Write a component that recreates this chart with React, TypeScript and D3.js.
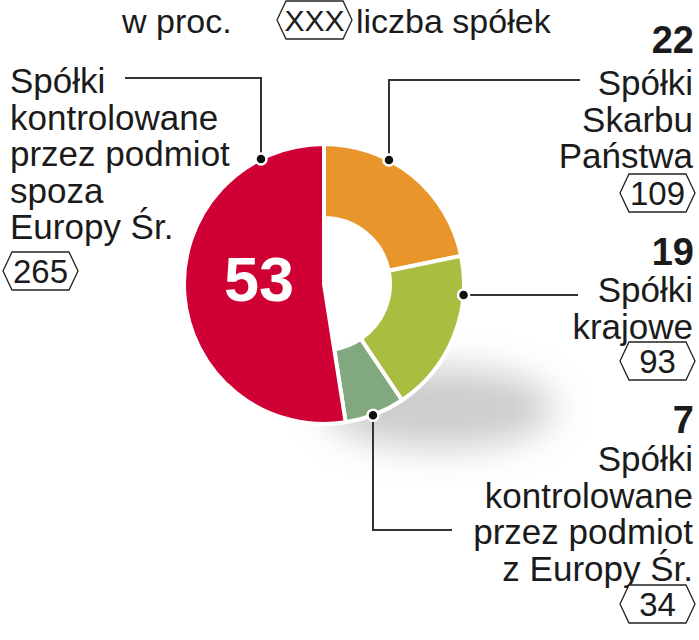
import React from "react";
import * as d3 from "d3";

// ---- data ----
const categories = [
  "Spółki Skarbu Państwa",
  "Spółki krajowe",
  "Spółki kontrolowane przez podmiot z Europy Śr.",
  "Spółki kontrolowane przez podmiot spoza Europy Śr.",
];
const percents = [22, 19, 7, 53];
const counts = [109, 93, 34, 265];
const labelLines = [
  ["Spółki", "Skarbu", "Państwa"],
  ["Spółki", "krajowe"],
  ["Spółki", "kontrolowane", "przez podmiot", "z Europy Śr."],
  ["Spółki", "kontrolowane", "przez podmiot", "spoza", "Europy Śr."],
];
const colors = ["#E8962B", "#AABD40", "#82A87F", "#CE0034"];
const legendPct = "w proc.";
const legendCount = "liczba spółek";
const legendHex = "XXX";

// ---- layout ----
const W = 699;
const H = 640;
const cx = 324;
const cy = 284;
const R = 140;
const Rin = 66;
const FONT = "'Liberation Sans', Arial, sans-serif";
const TXT = "#1b1b1b";

function hexPath(x0: number, y0: number, w: number, h: number) {
  const k = 9;
  const ym = y0 + h / 2;
  return `M${x0},${ym}L${x0 + k},${y0}L${x0 + w - k},${y0}L${x0 + w},${ym}L${x0 + w - k},${y0 + h}L${x0 + k},${y0 + h}Z`;
}

function Hex({ x, y, label }: { x: number; y: number; label: string }) {
  const w = 75;
  const h = 38;
  return (
    <g>
      <path d={hexPath(x, y, w, h)} fill="#fff" stroke="#222" strokeWidth={1.3} />
      <text x={x + w / 2} y={y + h - 7} textAnchor="middle" fontSize={33} fontFamily={FONT} fill={TXT}>
        {label}
      </text>
    </g>
  );
}

export default function App() {
  const pie = d3
    .pie<number>()
    .value((d) => d)
    .sort(null)
    .startAngle(0)
    .endAngle(2 * Math.PI);
  const arcs = pie(percents);

  const arcRing = d3.arc<d3.PieArcDatum<number>>().innerRadius(Rin).outerRadius(R);
  const arcFull = d3.arc<d3.PieArcDatum<number>>().innerRadius(0).outerRadius(R);

  // leader geometry (layout)
  const leaderX = [389, null, 373, 261];
  const leaderY = [null, 295, null, null];
  const dots = leaderX.map((lx, i) => {
    if (lx !== null) {
      const dx = lx - cx;
      const dy = Math.sqrt(R * R - dx * dx);
      return { x: lx, y: i === 2 ? cy + dy : cy - dy };
    }
    const dy = (leaderY[i] as number) - cy;
    return { x: cx + Math.sqrt(R * R - dy * dy), y: leaderY[i] as number };
  });

  const lineH = 36.5;
  const rightX = 693;

  // right label blocks
  const blocks = [
    { idx: 0, pctY: 53, firstY: 95, hexY: 174 },
    { idx: 1, pctY: 265, firstY: 302, hexY: 342 },
    { idx: 2, pctY: 433, firstY: 471, hexY: 585 },
  ];

  return (
    <svg width={W} height={H} style={{ position: "absolute", left: 0, top: 0, background: "#fff" }}>
      <defs>
        <filter id="shadow" x="-60%" y="-100%" width="220%" height="300%">
          <feGaussianBlur stdDeviation="18" />
        </filter>
      </defs>
      <rect width={W} height={H} fill="#fff" />

      {/* legend */}
      <text x={122} y={33} fontSize={34} fontFamily={FONT} fill={TXT}>
        {legendPct}
      </text>
      <g>
        <path d={hexPath(277, 1, 75, 38)} fill="#fff" stroke="#222" strokeWidth={1.3} />
        <text x={314.5} y={31} textAnchor="middle" fontSize={30} fontFamily={FONT} fill={TXT}>
          {legendHex}
        </text>
      </g>
      <text x={356} y={33} fontSize={34} fontFamily={FONT} fill={TXT}>
        {legendCount}
      </text>

      {/* shadow */}
      <ellipse cx={440} cy={408} rx={115} ry={40} fill="#9a9a9a" opacity={0.5} filter="url(#shadow)" />

      {/* donut */}
      <g transform={`translate(${cx},${cy})`}>
        {arcs.map((a, i) => (
          <path
            key={categories[i]}
            d={(i === 3 ? arcFull(a) : arcRing(a)) as string}
            fill={colors[i]}
            stroke="#fff"
            strokeWidth={4}
            strokeLinejoin="round"
          />
        ))}
      </g>
      <text
        x={259}
        y={301}
        textAnchor="middle"
        fontSize={63}
        fontWeight={700}
        fontFamily={FONT}
        fill="#fff"
      >
        {percents[3]}
      </text>

      {/* leaders */}
      <g stroke="#333" strokeWidth={2} fill="none">
        <polyline points={`125,78 ${dots[3].x},78 ${dots[3].x},${dots[3].y}`} />
        <polyline points={`580,80 ${dots[0].x},80 ${dots[0].x},${dots[0].y}`} />
        <polyline points={`578,${dots[1].y} ${dots[1].x},${dots[1].y}`} />
        <polyline points={`${dots[2].x},${dots[2].y} ${dots[2].x},530 452,530`} />
      </g>
      {dots.map((d, i) => (
        <circle key={i} cx={d.x} cy={d.y} r={5.5} fill="#111" stroke="#fff" strokeWidth={2.5} />
      ))}

      {/* left block */}
      {labelLines[3].map((l, j) => (
        <text key={j} x={10} y={93 + j * lineH} fontSize={35} fontFamily={FONT} fill={TXT}>
          {l}
        </text>
      ))}
      <Hex x={3} y={252} label={String(counts[3])} />

      {/* right blocks */}
      {blocks.map((b) => (
        <g key={b.idx}>
          <text x={rightX + 1} y={b.pctY} textAnchor="end" fontSize={38} fontWeight={700} fontFamily={FONT} fill={TXT}>
            {percents[b.idx]}
          </text>
          {labelLines[b.idx].map((l, j) => (
            <text key={j} x={rightX} y={b.firstY + j * lineH} textAnchor="end" fontSize={35} fontFamily={FONT} fill={TXT}>
              {l}
            </text>
          ))}
          <Hex x={rightX + 2 - 75} y={b.hexY} label={String(counts[b.idx])} />
        </g>
      ))}
    </svg>
  );
}
